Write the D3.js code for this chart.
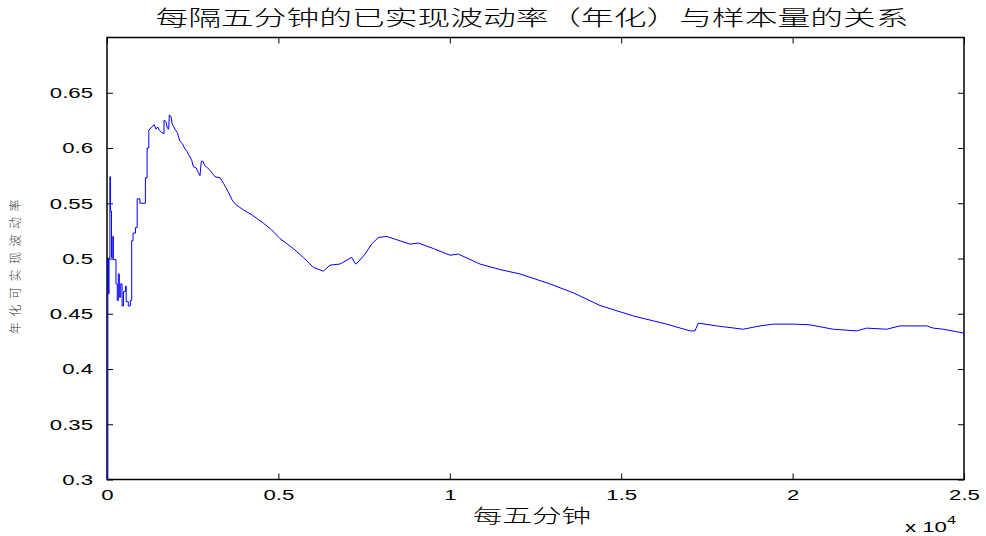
<!DOCTYPE html>
<html>
<head>
<meta charset="utf-8">
<script src="https://cdn.jsdelivr.net/npm/d3@7"></script>
<style>
    body { margin: 0; background: #fff; }
    svg { display: block; }
    .tick text { font-family: 'Liberation Sans', Arial, sans-serif; font-size: 15px; fill: #000; }
    .cjk { font-family: 'Noto Sans CJK SC', sans-serif; font-weight: 300; fill: #000; }
</style>
</head>
<body>
<div class="visHolder"></div>
<script>
// 样本量 (每五分钟) 和 对应的年化已实现波动率
const samples = [0, 25, 25, 40, 40, 60, 60, 85, 85, 100, 100, 130, 130, 170, 170, 185, 185, 262, 262, 300,
    300, 330, 330, 360, 360, 400, 400, 440, 440, 480, 480, 540, 540, 560, 560, 620, 620, 680, 680, 720,
    720, 760, 760, 830, 830, 880, 880, 960, 960, 1120, 1120, 1170, 1170, 1220, 1220, 1300, 1380, 1430, 1480, 1530,
    1600, 1663, 1663, 1720, 1760, 1800, 1818, 1870, 1900, 1950, 2000, 2050, 2129, 2200, 2260, 2330, 2400, 2470, 2520, 2600,
    2660, 2713, 2750, 2800, 2850, 2900, 3000, 3100, 3150, 3300, 3400, 3539, 3650, 3750, 3976, 4250, 4560, 4800, 5047, 5435,
    5727, 6018, 6310, 6505, 6797, 7137, 7250, 7331, 7526, 7720, 7915, 8158, 8450, 8839, 9082, 9520, 10005, 10248, 10880, 11464,
    12047, 12922, 13600, 14380, 15352, 16326, 17006, 17150, 17249, 17784, 18561, 19048, 19437, 20020, 20500, 21186, 21869, 22160, 22743, 23132,
    23910, 24104, 24396, 25000]
const volatility = [0.3, 0.3, 0.5, 0.5, 0.468, 0.468, 0.501, 0.501, 0.574, 0.574, 0.543, 0.543, 0.501, 0.501, 0.52, 0.52, 0.499, 0.499, 0.477, 0.477,
    0.462, 0.462, 0.486, 0.486, 0.465, 0.465, 0.477, 0.477, 0.457, 0.457, 0.47, 0.47, 0.475, 0.475, 0.461, 0.461, 0.457, 0.457, 0.462, 0.462,
    0.516, 0.516, 0.523, 0.523, 0.528, 0.528, 0.554, 0.554, 0.55, 0.55, 0.573, 0.573, 0.6, 0.6, 0.616, 0.619, 0.621, 0.617, 0.619, 0.616,
    0.614, 0.613, 0.625, 0.624, 0.618, 0.617, 0.63, 0.628, 0.622, 0.619, 0.616, 0.614, 0.606, 0.604, 0.6, 0.597, 0.593, 0.589, 0.583, 0.582,
    0.578, 0.575, 0.588, 0.588, 0.584, 0.583, 0.58, 0.576, 0.574, 0.573, 0.568, 0.56, 0.553, 0.549, 0.544, 0.539, 0.532, 0.526, 0.518, 0.509,
    0.501, 0.492, 0.4885, 0.494, 0.495, 0.501, 0.495, 0.497, 0.504, 0.513, 0.519, 0.52, 0.517, 0.513, 0.514, 0.509, 0.503, 0.504, 0.495, 0.49,
    0.486, 0.477, 0.469, 0.4575, 0.448, 0.4406, 0.4345, 0.4345, 0.4415, 0.439, 0.436, 0.439, 0.4406, 0.4406, 0.44, 0.436, 0.4345, 0.437, 0.436, 0.439,
    0.439, 0.437, 0.436, 0.4325]

const xTicks = [0, 5000, 10000, 15000, 20000, 25000]
const xTickLabels = ['0', '0.5', '1', '1.5', '2', '2.5']
const yTicks = [0.3, 0.35, 0.4, 0.45, 0.5, 0.55, 0.6, 0.65]
const yTickLabels = ['0.3', '0.35', '0.4', '0.45', '0.5', '0.55', '0.6', '0.65']

const titulo = '每隔五分钟的已实现波动率（年化）与样本量的关系'
const xLabel = '每五分钟'
const yLabel = '年化可实现波动率'

function init() {
    const width = 986
    const height = 536
    const left = 107
    const right = 964
    const top = 37.5
    const bottom = 479.5
    const stretch = 1.48

    const svg = d3.select('.visHolder')
        .append('svg')
        .attr('width', width)
        .attr('height', height)

    const xScale = d3.scaleLinear()
        .domain([0, 25000])
        .range([left, right])

    const yScale = d3.scaleLinear()
        .domain([0.3, 0.7])
        .range([bottom, top])

    // marco
    svg.append('rect')
        .attr('x', left)
        .attr('y', top)
        .attr('width', right - left)
        .attr('height', bottom - top)
        .attr('fill', 'none')
        .attr('stroke', '#000')
        .attr('stroke-width', 1.5)

    const xAxis = d3.axisBottom(xScale)
        .tickValues(xTicks)
        .tickFormat((d, i) => xTickLabels[i])
        .tickSizeInner(-6)
        .tickSizeOuter(0)

    const yAxis = d3.axisLeft(yScale)
        .tickValues(yTicks)
        .tickFormat((d, i) => yTickLabels[i])
        .tickSizeInner(-6)
        .tickSizeOuter(0)

    const gx = svg.append('g')
        .attr('transform', `translate(0, ${bottom})`)
        .call(xAxis)
    gx.selectAll('text')
        .attr('y', 0)
        .attr('dy', 0)
        .attr('transform', `translate(0, 20) scale(${stretch}, 1)`)

    const gy = svg.append('g')
        .attr('transform', `translate(${left}, 0)`)
        .call(yAxis)
    gy.selectAll('text')
        .attr('x', 0)
        .attr('transform', `translate(-14, 0) scale(${stretch}, 1)`)

    svg.append('g')
        .attr('transform', `translate(0, ${top})`)
        .call(d3.axisTop(xScale).tickValues(xTicks).tickFormat('').tickSizeInner(-6).tickSizeOuter(0))

    svg.append('g')
        .attr('transform', `translate(${right}, 0)`)
        .call(d3.axisRight(yScale).tickValues(yTicks).tickFormat('').tickSizeInner(-6).tickSizeOuter(0))

    svg.selectAll('.domain').remove()
    svg.selectAll('.tick line').attr('stroke', '#000')

    const line = d3.line()
        .x((d, i) => xScale(samples[i]))
        .y((d, i) => yScale(volatility[i]))

    svg.append('path')
        .datum(samples)
        .attr('d', line)
        .attr('fill', 'none')
        .attr('stroke', '#0000ff')
        .attr('stroke-width', 1)

    // textos
    svg.append('text')
        .attr('class', 'cjk')
        .attr('transform', `translate(532, 25) scale(1.56, 1)`)
        .attr('text-anchor', 'middle')
        .style('font-size', '21px')
        .text(titulo)

    svg.append('text')
        .attr('class', 'cjk')
        .attr('transform', `translate(532, 523) scale(1.56, 1)`)
        .attr('text-anchor', 'middle')
        .style('font-size', '19px')
        .text(xLabel)

    svg.append('text')
        .attr('class', 'cjk')
        .attr('transform', 'translate(20, 264) rotate(-90)')
        .attr('text-anchor', 'middle')
        .style('font-size', '12px')
        .style('letter-spacing', '5.5px')
        .style('fill', '#333')
        .text(yLabel)

    const exp = svg.append('text')
        .attr('transform', `translate(905, 532) scale(${stretch}, 1)`)
        .style('font-family', "'Liberation Sans', Arial, sans-serif")
        .style('font-size', '15px')
    exp.append('tspan').text('x 10')
    exp.append('tspan')
        .attr('dy', -8)
        .style('font-size', '11px')
        .text('4')
}

init()
</script>
</body>
</html>
